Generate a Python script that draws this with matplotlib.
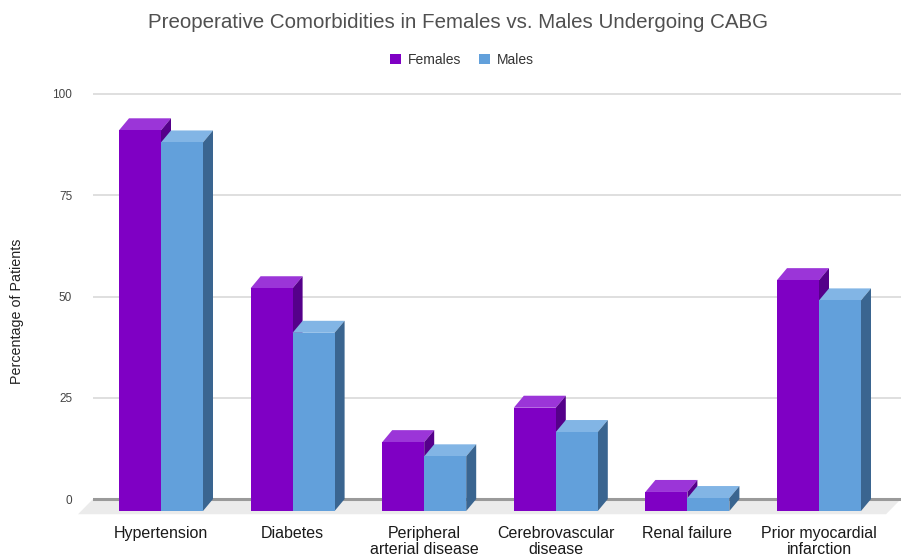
import matplotlib
matplotlib.use("Agg")
import matplotlib.pyplot as plt
from matplotlib.patches import Polygon, Patch

plt.rcParams["font.family"] = ["Liberation Sans", "DejaVu Sans"]

# data
categories = ["Hypertension", "Diabetes", "Peripheral\narterial disease",
              "Cerebrovascular\ndisease", "Renal failure", "Prior myocardial\ninfarction"]
females = [94.0, 55.0, 17.0, 25.5, 4.7, 57.0]
males = [91.0, 44.0, 13.5, 19.5, 3.2, 52.0]
yticks = [0, 25, 50, 75, 100]

# colours: front / top / side
FEM = ("#7F00C4", "#9B35D8", "#55008A")
MAL = ("#62A0DB", "#82B5E5", "#3A6590")

W, H = 901, 555
fig = plt.figure(figsize=(W / 100, H / 100), dpi=100)

# axes box in pixels
ax_l, ax_r, ax_t, ax_b = 93, 901, 88, 518
ax = fig.add_axes([ax_l / W, 1 - ax_b / H, (ax_r - ax_l) / W, (ax_b - ax_t) / H])

px_per_grp = 131.6
px_per_unit = 4.05
x0_px = 161  # pixel centre of first group
ax.set_xlim((ax_l - x0_px) / px_per_grp, (ax_r - x0_px) / px_per_grp)
ax.set_ylim((511 - ax_b) / px_per_unit, (511 - ax_t) / px_per_unit)

bw = 42 / px_per_grp       # bar width in data units
ddx = 10 / px_per_grp      # depth offset x
ddy = 12 / px_per_unit     # depth offset y

xlo, xhi = ax.get_xlim()

# floor
ax.add_patch(Polygon([(xlo - 1.5 * ddx, -0.8), (xhi - 1.5 * ddx, -0.8),
                      (xhi, ddy), (xlo, ddy)],
                     closed=True, facecolor="#ebebeb", edgecolor="none", zorder=0,
                     clip_on=False))

# back wall gridlines
for v in yticks:
    if v == 0:
        ax.plot([xlo, xhi], [v + ddy, v + ddy], color="#9a9a9a", lw=2.2, zorder=1)
    else:
        ax.plot([xlo, xhi], [v + ddy, v + ddy], color="#dcdcdc", lw=1.3, zorder=1)


def bar3d(xs, vals, cols, z):
    ax.bar(xs, vals, width=bw, align="edge", color=cols[0], zorder=z + 2,
           edgecolor="none")
    for x, v in zip(xs, vals):
        top = [(x, v), (x + bw, v), (x + bw + ddx, v + ddy), (x + ddx, v + ddy)]
        side = [(x + bw, 0), (x + bw, v), (x + bw + ddx, v + ddy), (x + bw + ddx, ddy)]
        ax.add_patch(Polygon(top, closed=True, facecolor=cols[1], edgecolor="none", zorder=z + 1))
        ax.add_patch(Polygon(side, closed=True, facecolor=cols[2], edgecolor="none", zorder=z + 1))


idx = list(range(len(categories)))
bar3d([i - bw for i in idx], females, FEM, 2)
bar3d(idx, males, MAL, 5)

ax.set_xticks(idx)
ax.set_xticklabels(categories, fontsize=11.5, color="#1a1a1a", linespacing=1.02)
ax.set_yticks([v + ddy for v in yticks])
ax.set_yticklabels([str(v) for v in yticks], fontsize=8.5, color="#444444")
ax.tick_params(axis="x", length=0, pad=6)
ax.tick_params(axis="y", length=0, pad=15)
for s in ax.spines.values():
    s.set_visible(False)
ax.set_facecolor("none")

fig.text(458 / W, 1 - 22 / H, "Preoperative Comorbidities in Females vs. Males Undergoing CABG",
         ha="center", va="center", fontsize=14.8, color="#505050")
fig.text(17.5 / W, 1 - 311 / H, "Percentage of Patients", rotation=90,
         ha="center", va="center", fontsize=10.3, color="#222222")

handles = [Patch(facecolor=FEM[0], label="Females"), Patch(facecolor=MAL[0], label="Males")]
fig.legend(handles=handles, loc="center", bbox_to_anchor=(462 / W, 1 - 60 / H), ncol=2,
           frameon=False, fontsize=10, handlelength=0.75, handleheight=0.75,
           handletextpad=0.5, columnspacing=1.3, labelcolor="#333333")

fig.savefig("out.png", dpi=100)
